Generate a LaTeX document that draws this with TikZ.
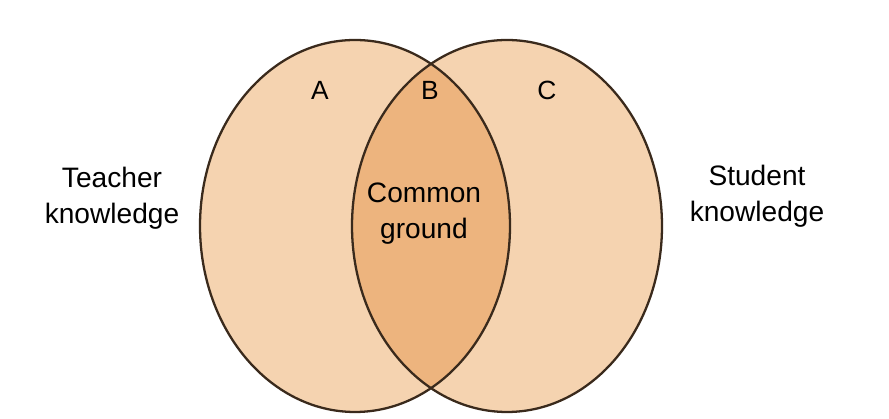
\documentclass[tikz,border=0pt]{standalone}
\usepackage{fontspec}
\setmainfont{Liberation Sans}
\definecolor{setfill}{HTML}{F5D3B0}
\definecolor{meetfill}{HTML}{EDB47E}
\definecolor{rim}{HTML}{3A2A1C}
\tikzset{
  setlabel/.style={font=\fontsize{15}{18}\selectfont},
  sidelabel/.style={font=\fontsize{16}{20.5}\selectfont,align=center}
}
\begin{document}
\begin{tikzpicture}
    \useasboundingbox (0,0) rectangle (17.78,8.38);
    \fill[setfill] (7.1,3.86) ellipse [x radius=3.1,y radius=3.72];%
    \fill[setfill] (10.14,3.86) ellipse [x radius=3.1,y radius=3.72];%
    \begin{scope}
      \clip (7.1,3.86) ellipse [x radius=3.1,y radius=3.72];%
      \fill[meetfill] (10.14,3.86) ellipse [x radius=3.1,y radius=3.72];%
    \end{scope}
    \draw[rim,line width=1.3pt] (7.1,3.86) ellipse [x radius=3.1,y radius=3.72];%
    \draw[rim,line width=1.3pt] (10.14,3.86) ellipse [x radius=3.1,y radius=3.72];%

    \node[setlabel] (A) at (6.4,6.58) {A};%
    \node[setlabel] (B) at (8.6,6.58) {B};%
    \node[setlabel] (C) at (10.94,6.58) {C};%
    \node[sidelabel] (G) at (8.48,4.1) {Common\\ground};%
    \node[sidelabel] (T) at (2.24,4.42) {Teacher\\knowledge};%
    \node[sidelabel] (S) at (15.14,4.46) {Student\\knowledge};%
  \end{tikzpicture}
\end{document}
